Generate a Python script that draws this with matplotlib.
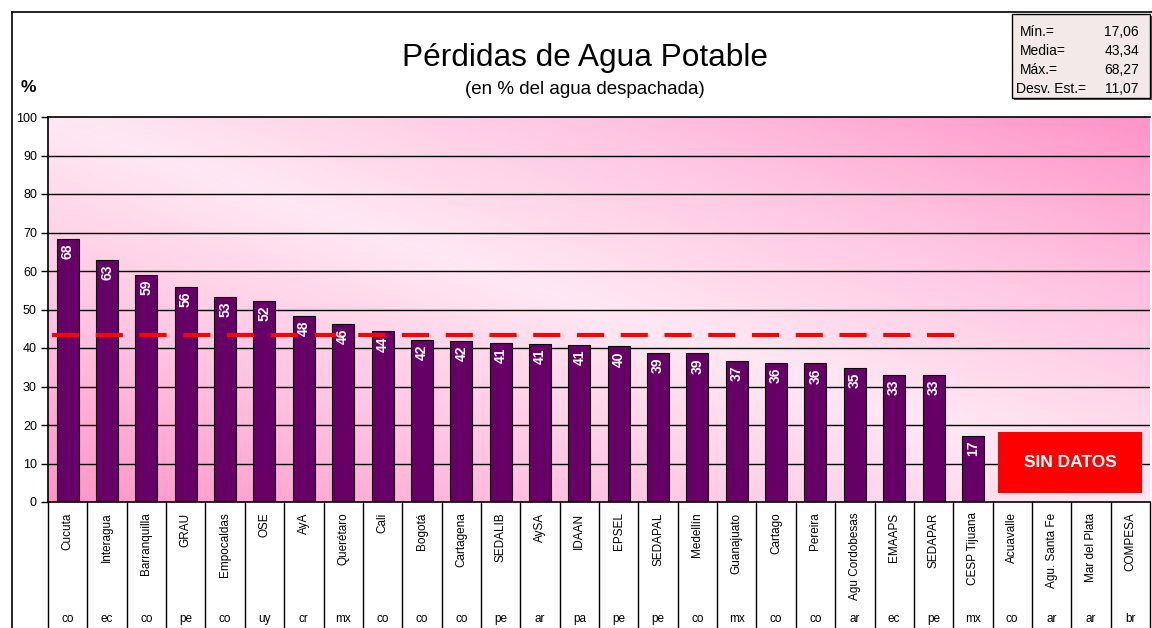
import numpy as np
import matplotlib
matplotlib.use("Agg")
import matplotlib.pyplot as plt
from matplotlib.patches import Rectangle
from matplotlib.lines import Line2D
from matplotlib.colors import LinearSegmentedColormap

plt.rcParams['font.family'] = ['Liberation Sans', 'DejaVu Sans']
NARROW = ['Liberation Sans Narrow', 'Liberation Sans', 'DejaVu Sans']

# --- data ---
utilities = ['Cucuta', 'Interagua', 'Barranquilla', 'GRAU', 'Empocaldas', 'OSE',
             'AyA', 'Querétaro', 'Cali', 'Bogotá', 'Cartagena', 'SEDALIB', 'AySA',
             'IDAAN', 'EPSEL', 'SEDAPAL', 'Medellín', 'Guanajuato', 'Cartago',
             'Pereira', 'Agu Cordobesas', 'EMAAPS', 'SEDAPAR', 'CESP Tijuana',
             'Acuavalle', 'Agu. Santa Fe', 'Mar del Plata', 'COMPESA']
countries = ['co', 'ec', 'co', 'pe', 'co', 'uy', 'cr', 'mx', 'co', 'co', 'co', 'pe',
             'ar', 'pa', 'pe', 'pe', 'co', 'mx', 'co', 'co', 'ar', 'ec', 'pe', 'mx',
             'co', 'ar', 'ar', 'br']
losses = [68.27, 62.8, 59.0, 55.8, 53.2, 52.3, 48.4, 46.2, 44.3, 42.2, 41.7, 41.4,
          41.1, 40.7, 40.4, 38.7, 38.6, 36.7, 36.1, 36.0, 34.8, 33.0, 32.9, 17.06]
stats_labels = ['Mín.=', 'Media=', 'Máx.=', 'Desv. Est.=']
stats_values = ['17,06', '43,34', '68,27', '11,07']
mean_loss = 43.34

W, H = 1152, 628
fig = plt.figure(figsize=(W / 100, H / 100), dpi=100)
fig.patch.set_facecolor('white')

ax_l, ax_r, ax_t, ax_b = 48, 1150, 117, 502
ax = fig.add_axes([ax_l / W, 1 - ax_b / H, (ax_r - ax_l) / W, (ax_b - ax_t) / H])

n = len(utilities)
ax.set_xlim(-0.5, n - 0.5)
ax.set_ylim(0, 100)

# diagonal pink gradient background
gx, gy = np.meshgrid(np.linspace(0, 1, 300), np.linspace(1, 0, 120))
grad = np.abs(gx + gy - 1)
cmap = LinearSegmentedColormap.from_list('pk', ['#ffe8f3', '#ffc4e1', '#ff94c8'])
ax.imshow(grad, cmap=cmap, extent=(-0.5, n - 0.5, 0, 100), aspect='auto',
          zorder=0, vmin=0, vmax=1)

for yv in range(10, 100, 10):
    ax.axhline(yv, color='black', lw=1, zorder=1)

x = np.arange(len(losses))
bars = ax.bar(x, losses, width=0.56, color='#660066', edgecolor='black', lw=0.8, zorder=2)
for xi, v in zip(x, losses):
    ax.text(xi, v - 1.2, f'{v:.0f}', rotation=90, ha='center', va='top', color='white',
            fontsize=10, fontweight='bold', zorder=4)

ax.hlines(mean_loss, -0.4, 22.8, colors='#ff0000', lw=3, linestyles=(0, (6.5, 4)), zorder=3)

ax.add_patch(Rectangle((23.65, 2.3), 3.65, 15.9, facecolor='#ff0000', edgecolor='none', zorder=3))
ax.text(25.47, 10.2, 'SIN DATOS', color='white', fontsize=12.5, fontweight='bold',
        ha='center', va='center', zorder=4)

ax.spines['right'].set_visible(False)
for s in ['left', 'bottom', 'top']:
    ax.spines[s].set_color('black')
    ax.spines[s].set_linewidth(1.2)

ax.set_yticks(range(0, 101, 10))
ax.tick_params(axis='y', length=5, width=1, labelsize=9, pad=3)
ax.set_xticks([])

# category area below the axis
trans = ax.get_xaxis_transform()
for b in np.arange(-0.5, n, 1.0):
    ax.plot([b, b], [0, -0.4], transform=trans, color='black', lw=1, clip_on=False)
for i, (name, cc) in enumerate(zip(utilities, countries)):
    ax.text(i, -0.027, name, transform=trans, rotation=90, ha='center', va='top',
            fontsize=8.5, family=NARROW)
    ax.text(i, -0.305, cc, transform=trans, ha='center', va='center', fontsize=8.5,
            family=NARROW)

# titles
fig.text(585 / W, 1 - 58 / H, 'Pérdidas de Agua Potable', ha='center', va='center', fontsize=22.8)
fig.text(585 / W, 1 - 90 / H, '(en % del agua despachada)', ha='center', va='center', fontsize=13.5)
fig.text(28 / W, 1 - 87 / H, '%', ha='center', va='center', fontsize=12.5, fontweight='bold')

# outer frame
fig.add_artist(Line2D([12 / W, 12 / W], [0, 1 - 12 / H], color='black', lw=1.2))
fig.add_artist(Line2D([12 / W, 1], [1 - 12 / H, 1 - 12 / H], color='black', lw=1.2))

# stats box
bx0, by0, bx1, by1 = 1012, 14, 1150, 98
fig.add_artist(Rectangle((bx0 / W + 2 / W, 1 - by1 / H - 2 / H), (bx1 - bx0) / W, (by1 - by0) / H,
                         transform=fig.transFigure, facecolor='#555555', edgecolor='none'))
fig.add_artist(Rectangle((bx0 / W, 1 - by1 / H), (bx1 - bx0) / W, (by1 - by0) / H,
                         transform=fig.transFigure, facecolor='#f3e9e9', edgecolor='black', lw=1))
for k, (lab, val) in enumerate(zip(stats_labels, stats_values)):
    yy = 1 - [32, 51, 70, 89][k] / H
    lx = 1016 if k == 3 else 1020
    fig.text(lx / W, yy, lab, ha='left', va='center', fontsize=10)
    fig.text(1139 / W, yy, val, ha='right', va='center', fontsize=10)

fig.savefig('out.png', dpi=100)
